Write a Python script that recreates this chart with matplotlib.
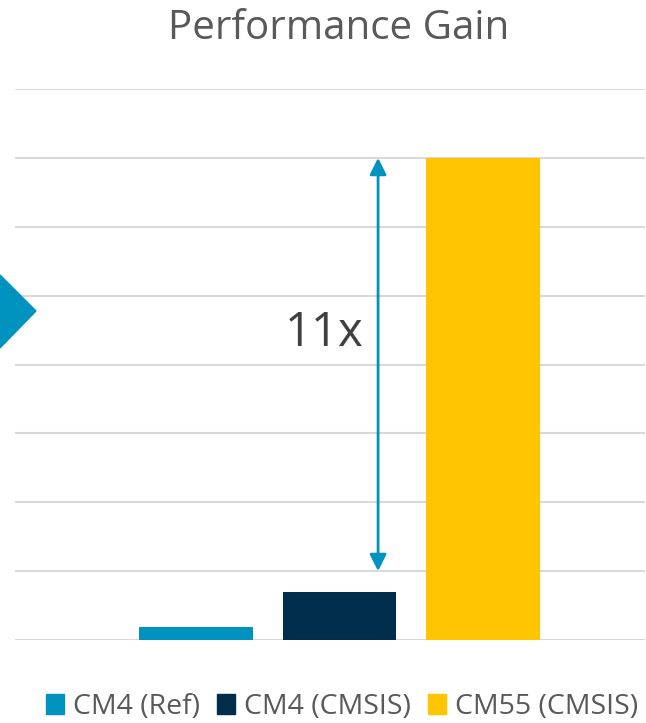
import matplotlib
matplotlib.use("Agg")
import matplotlib.pyplot as plt
from matplotlib.patches import Polygon, Patch

categories = ["CM4 (Ref)", "CM4 (CMSIS)", "CM55 (CMSIS)"]
values = [0.19, 0.70, 7.0]
colors = ["#0093BF", "#002D4B", "#FFC600"]
gain_label = "11x"
title = "Performance Gain"

plt.rcParams["font.family"] = ["Open Sans", "DejaVu Sans"]
W, H = 646, 723
fig = plt.figure(figsize=(W / 100, H / 100), dpi=100)
ax = fig.add_axes([15 / W, (H - 640) / H, 630 / W, (640 - 89) / H])

x = list(range(len(categories)))
ax.bar(x, values, width=0.79, color=colors, zorder=2)
ax.set_xlim(-1.26, 3.13)
ax.set_ylim(0, 8)
ax.set_yticks(range(0, 9))
ax.grid(axis="y", color="#D9D9D9", lw=1.5, zorder=0)
ax.tick_params(left=False, bottom=False, labelleft=False, labelbottom=False)
for s in ax.spines.values():
    s.set_visible(False)

# gain arrow between CM4 (CMSIS) and CM55
ax.annotate("", xy=(1.27, values[2]), xytext=(1.27, 1.0),
            arrowprops=dict(arrowstyle="<|-|>", color="#0093BF", lw=2,
                            mutation_scale=25, shrinkA=0, shrinkB=0))
ax.text(1.17, 4.45, gain_label, fontsize=34, color="#404040",
        ha="right", va="center")

fig.text(339 / W, 1 - 29 / H, title, fontsize=29, color="#595959",
         ha="center", va="center")

# slide arrow shape on the left edge
tri = Polygon([(0, 1 - 275 / H), (36 / W, 1 - 311 / H), (0, 1 - 348 / H)],
              closed=True, transform=fig.transFigure, color="#0093BF")
fig.patches.append(tri)

handles = [Patch(color=c) for c in colors]
fig.legend(handles, categories, loc="center", bbox_to_anchor=(342 / W, 1 - 707 / H),
           ncol=3, frameon=False, fontsize=20.5, labelcolor="#595959",
           handlelength=0.65, handleheight=0.65, handletextpad=0.3, columnspacing=0.6)

fig.savefig("out.png", dpi=100)
